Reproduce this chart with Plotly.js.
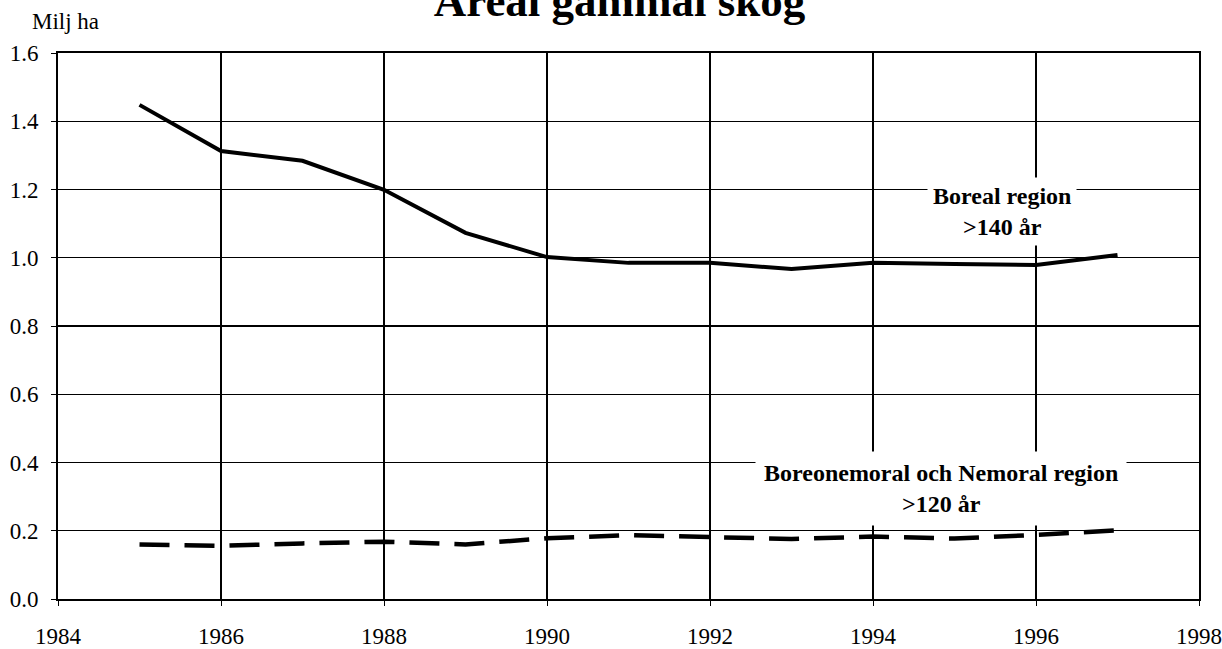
<!DOCTYPE html>
<html>
<head>
<meta charset="utf-8">
<script src="https://cdn.plot.ly/plotly-3.0.1.min.js"></script>
<style>html,body{margin:0;padding:0;background:#fff;}#chart{width:1222px;height:649px;}</style>
</head>
<body>
<div id="chart"></div>
<script>
const years = [1985,1986,1987,1988,1989,1990,1991,1992,1993,1994,1995,1996,1997];
const boreal = [1.448,1.313,1.284,1.199,1.073,1.002,0.985,0.985,0.967,0.985,0.982,0.979,1.008];
const nemoral = [0.160,0.156,0.163,0.168,0.160,0.178,0.187,0.180,0.176,0.183,0.177,0.188,0.201];
const xTicks = [1984,1986,1988,1990,1992,1994,1996,1998];
const yTicks = [0,0.2,0.4,0.6,0.8,1.0,1.2,1.4,1.6];
const yTickText = ['0.0','0.2','0.4','0.6','0.8','1.0','1.2','1.4','1.6'];

const serif = 'Liberation Serif, Times New Roman, serif';

const traces = [
  {x: years, y: boreal, type: 'scatter', mode: 'lines', line: {color: '#000', width: 4}, hoverinfo: 'skip'},
  {x: years, y: nemoral, type: 'scatter', mode: 'lines', line: {color: '#000', width: 4.5, dash: '30px,15px'}, hoverinfo: 'skip'}
];

const layout = {
  width: 1222, height: 649,
  margin: {l: 58, r: 23, t: 53, b: 50},
  paper_bgcolor: '#fff', plot_bgcolor: '#fff',
  showlegend: false,
  title: {text: '<b>Areal gammal skog</b>', font: {family: serif, size: 45, color: '#000'},
          x: 0.507, xanchor: 'center', y: 1, yanchor: 'middle', yref: 'container'},
  xaxis: {range: [1984, 1998], tickvals: xTicks, ticktext: xTicks.map(String),
          showgrid: true, gridcolor: '#000', gridwidth: 1.3,
          showline: true, linecolor: '#000', linewidth: 2, mirror: true,
          ticks: 'outside', ticklen: 5, tickcolor: '#000', ticklabelstandoff: 10,
          tickfont: {family: serif, size: 23, color: '#000'}, zeroline: false, fixedrange: true},
  yaxis: {range: [0, 1.6], tickvals: yTicks, ticktext: yTickText,
          showgrid: true, gridcolor: '#000', gridwidth: 1.3,
          showline: true, linecolor: '#000', linewidth: 2, mirror: true,
          ticks: 'outside', ticklen: 5, tickcolor: '#000', ticklabelstandoff: 8,
          tickfont: {family: serif, size: 23, color: '#000'}, zeroline: false, fixedrange: true},
  annotations: [
    {text: 'Milj ha', xref: 'paper', yref: 'paper', x: (65-58)/1141, y: (599-22)/546,
     xanchor: 'center', yanchor: 'middle', showarrow: false,
     font: {family: serif, size: 23, color: '#000'}},
    {text: '<b>Boreal region</b><br><b>>140 år</b>', x: 1995.58, y: 1.137, xref: 'x', yref: 'y',
     xanchor: 'center', yanchor: 'middle', showarrow: false, bgcolor: '#fff', borderpad: 5,
     font: {family: serif, size: 24, color: '#000'}},
    {text: '<b>Boreonemoral och Nemoral region</b><br><b>>120 år</b>', x: 1994.84, y: 0.325, xref: 'x', yref: 'y',
     xanchor: 'center', yanchor: 'middle', showarrow: false, bgcolor: '#fff', borderpad: 8,
     font: {family: serif, size: 24, color: '#000'}}
  ]
};

Plotly.newPlot('chart', traces, layout, {staticPlot: true, displayModeBar: false});
</script>
</body>
</html>
